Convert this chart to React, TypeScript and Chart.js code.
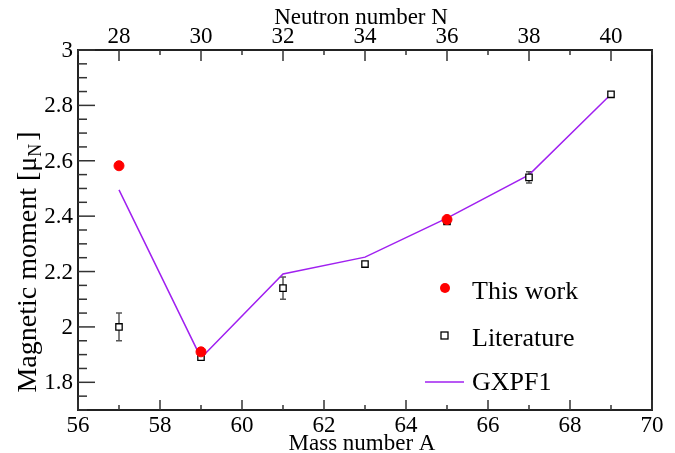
import React, { useEffect, useRef } from "react";
import { Chart, registerables } from "chart.js";

Chart.register(...registerables);

// ---- data ----
const thisWorkA = [57, 59, 65];
const thisWorkMu = [2.582, 1.91, 2.388];

const literatureA = [57, 59, 61, 63, 65, 67, 69];
const literatureMu = [2.0, 1.891, 2.14, 2.227, 2.381, 2.54, 2.84];
const literatureErr = [0.05, 0, 0.04, 0, 0, 0.02, 0];

const gxpf1A = [57, 59, 61, 63, 65, 67, 69];
const gxpf1Mu = [2.495, 1.888, 2.191, 2.252, 2.393, 2.549, 2.84];

const massTicks = [56, 58, 60, 62, 64, 66, 68, 70];
const neutronTicks = [28, 30, 32, 34, 36, 38, 40];
const momentTicks = [1.8, 2, 2.2, 2.4, 2.6, 2.8, 3];

const FONT = "'Liberation Serif', 'DejaVu Serif', serif";
const PURPLE = "#a020f0";

const framePlugin = {
  id: "rootFrame",
  beforeDatasetsDraw(chart: any) {
    const ctx = chart.ctx;
    const x = chart.scales.x;
    const y = chart.scales.y;
    const ds = chart.data.datasets[1];
    ctx.save();
    ctx.strokeStyle = "#555";
    ctx.lineWidth = 1.5;
    ds.data.forEach((p: any, i: number) => {
      const e = literatureErr[i];
      if (!e) return;
      const px = x.getPixelForValue(p.x);
      const y1 = y.getPixelForValue(p.y + e);
      const y2 = y.getPixelForValue(p.y - e);
      ctx.beginPath();
      ctx.moveTo(px, y1);
      ctx.lineTo(px, y2);
      ctx.moveTo(px - 3, y1);
      ctx.lineTo(px + 3, y1);
      ctx.moveTo(px - 3, y2);
      ctx.lineTo(px + 3, y2);
      ctx.stroke();
    });
    ctx.restore();
  },
  afterDraw(chart: any) {
    const ctx = chart.ctx;
    const { left, right, top, bottom } = chart.chartArea;
    const x = chart.scales.x;
    const x2 = chart.scales.x2;
    const y = chart.scales.y;
    ctx.save();
    // frame
    ctx.strokeStyle = "#222";
    ctx.lineWidth = 2;
    ctx.strokeRect(left, top, right - left, bottom - top);

    ctx.strokeStyle = "#333";
    ctx.lineWidth = 1.5;
    // y ticks
    for (let k = 0; k <= 26; k++) {
      const v = 1.7 + k * 0.05;
      const major = Math.abs((v * 10) % 2) < 0.01 || Math.abs((v * 10) % 2 - 2) < 0.01;
      const py = y.getPixelForValue(v);
      ctx.beginPath();
      ctx.moveTo(left, py);
      ctx.lineTo(left + (major ? 17 : 9), py);
      ctx.stroke();
    }
    // bottom ticks
    for (let v = 56; v <= 70; v++) {
      const px = x.getPixelForValue(v);
      const major = v % 2 === 0;
      ctx.beginPath();
      ctx.moveTo(px, bottom);
      ctx.lineTo(px, bottom - (major ? 10 : 5));
      ctx.stroke();
    }
    // top ticks
    for (let v = 27; v <= 41; v++) {
      const px = x2.getPixelForValue(v);
      const major = v % 2 === 0;
      ctx.beginPath();
      ctx.moveTo(px, top);
      ctx.lineTo(px, top + (major ? 11 : 5));
      ctx.stroke();
    }

    ctx.fillStyle = "#000";
    ctx.font = `23px ${FONT}`;
    // y tick labels
    ctx.textAlign = "right";
    ctx.textBaseline = "middle";
    momentTicks.forEach((v) => {
      ctx.fillText(String(v), left - 5, y.getPixelForValue(v) + 1);
    });
    // bottom tick labels
    ctx.textAlign = "center";
    ctx.textBaseline = "middle";
    massTicks.forEach((v) => {
      ctx.fillText(String(v), x.getPixelForValue(v), bottom + 16);
    });
    neutronTicks.forEach((v) => {
      ctx.fillText(String(v), x2.getPixelForValue(v), top - 13);
    });
    // axis titles
    ctx.fillText("Mass number A", 362, bottom + 34);
    ctx.fillText("Neutron number N", 361, 18);

    // y title with subscript
    ctx.save();
    ctx.translate(36, 262);
    ctx.rotate(-Math.PI / 2);
    ctx.textAlign = "left";
    ctx.textBaseline = "alphabetic";
    const big = `28px ${FONT}`;
    const small = `18px ${FONT}`;
    const t1 = "Magnetic moment [\u03bc";
    ctx.font = big;
    const w1 = ctx.measureText(t1).width;
    ctx.font = small;
    const w2 = ctx.measureText("N").width;
    ctx.font = big;
    const w3 = ctx.measureText("]").width;
    const total = w1 + w2 + w3 + 3;
    let cx = -total / 2;
    ctx.fillText(t1, cx, 0);
    cx += w1;
    ctx.font = small;
    ctx.fillText("N", cx, 5);
    cx += w2 + 3;
    ctx.font = big;
    ctx.fillText("]", cx, 0);
    ctx.restore();

    // legend
    const labels = chart.data.datasets.map((d: any) => d.label);
    ctx.font = `26px ${FONT}`;
    ctx.textAlign = "left";
    ctx.textBaseline = "middle";
    const rows = [292, 339, 383];
    ctx.fillStyle = "red";
    ctx.beginPath();
    ctx.arc(445, 288, 5, 0, Math.PI * 2);
    ctx.fill();
    ctx.fillStyle = "#fff";
    ctx.strokeStyle = "#000";
    ctx.lineWidth = 1.3;
    ctx.fillRect(441, 332, 7, 7);
    ctx.strokeRect(441, 332, 7, 7);
    ctx.strokeStyle = PURPLE;
    ctx.lineWidth = 1.5;
    ctx.beginPath();
    ctx.moveTo(425, 382);
    ctx.lineTo(464, 382);
    ctx.stroke();
    ctx.fillStyle = "#000";
    labels.forEach((l: string, i: number) => {
      ctx.fillText(l, 472, rows[i]);
    });
    ctx.restore();
  },
};

export default function App() {
  const ref = useRef<HTMLCanvasElement>(null);
  useEffect(() => {
    document.body.style.margin = "0";
    if (!ref.current) return;
    const chart = new Chart(ref.current, {
      type: "scatter",
      data: {
        datasets: [
          {
            label: "This work",
            data: thisWorkA.map((a, i) => ({ x: a, y: thisWorkMu[i] })),
            backgroundColor: "red",
            borderColor: "red",
            pointRadius: 5,
            pointStyle: "circle",
            showLine: false,
          },
          {
            label: "Literature",
            data: literatureA.map((a, i) => ({ x: a, y: literatureMu[i] })),
            backgroundColor: "#fff",
            borderColor: "#000",
            borderWidth: 1.3,
            pointRadius: 4.5,
            pointStyle: "rect",
            showLine: false,
          },
          {
            label: "GXPF1",
            data: gxpf1A.map((a, i) => ({ x: a, y: gxpf1Mu[i] })),
            borderColor: PURPLE,
            backgroundColor: PURPLE,
            borderWidth: 1.5,
            pointRadius: 0,
            showLine: true,
            tension: 0,
          },
        ],
      },
      options: {
        animation: false,
        responsive: false,
        layout: { padding: { left: 78, right: 23, top: 50, bottom: 43 } },
        plugins: { legend: { display: false }, tooltip: { enabled: false } },
        scales: {
          x: { type: "linear", min: 56, max: 70, display: false },
          x2: { type: "linear", min: 27, max: 41, display: false, position: "top" },
          y: { type: "linear", min: 1.7, max: 3, display: false },
        },
      },
      plugins: [framePlugin],
    });
    let alive = true;
    const fonts: any = (document as any).fonts;
    if (fonts && fonts.load) {
      Promise.all([
        fonts.load(`23px 'Liberation Serif'`, "0123456789."),
        fonts.load(`28px 'Liberation Serif'`, "Magnetic moment [\u03bc]"),
      ])
        .then(() => {
          if (alive) chart.draw();
        })
        .catch(() => {});
    }
    return () => {
      alive = false;
      chart.destroy();
    };
  }, []);
  return (
    <div style={{ width: 675, height: 453, background: "#fff" }}>
      <canvas ref={ref} width={675} height={453} />
    </div>
  );
}
